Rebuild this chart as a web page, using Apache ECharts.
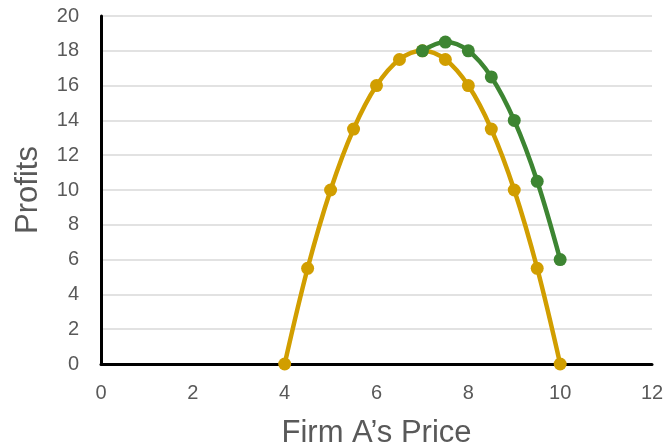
<!DOCTYPE html>
<html>
<head>
<meta charset="utf-8">
<script src="https://cdn.jsdelivr.net/npm/echarts@6/dist/echarts.min.js"></script>
<style>
  html, body { margin: 0; padding: 0; background: #fff; }
  #chart { width: 666px; height: 447px; }
</style>
</head>
<body>
<div id="chart"></div>
<script>
// Profit curves against Firm A's price
const pricesA = [4, 4.5, 5, 5.5, 6, 6.5, 7, 7.5, 8, 8.5, 9, 9.5, 10];
const profitsA = [0, 5.5, 10, 13.5, 16, 17.5, 18, 17.5, 16, 13.5, 10, 5.5, 0];
const pricesB = [7, 7.5, 8, 8.5, 9, 9.5, 10];
const profitsB = [18, 18.5, 18, 16.5, 14, 10.5, 6];

const xAxisTitle = 'Firm A\u2019s Price';
const yAxisTitle = 'Profits';

const pairs = (xs, ys) => xs.map((x, i) => [x, ys[i]]);

const chart = echarts.init(document.getElementById('chart'), null, { renderer: 'canvas' });
const font = '"Liberation Sans", Arial, sans-serif';

chart.setOption({
  animation: false,
  grid: {
    left: 101, right: 14, top: 16, bottom: 83,
    containLabel: false, outerBoundsMode: 'none'
  },
  xAxis: {
    type: 'value', min: 0, max: 12, interval: 2,
    name: xAxisTitle, nameLocation: 'middle', nameGap: 54,
    nameTextStyle: { fontFamily: font, fontSize: 31, color: '#595959' },
    axisLine: { show: true, onZero: false, lineStyle: { color: '#000', width: 3 } },
    axisTick: { show: false },
    splitLine: { show: false },
    axisLabel: { fontFamily: font, fontSize: 20, color: '#595959', margin: 19 }
  },
  yAxis: {
    type: 'value', min: 0, max: 20, interval: 2,
    name: yAxisTitle, nameLocation: 'middle', nameGap: 57,
    nameTextStyle: { fontFamily: font, fontSize: 31, color: '#595959' },
    axisLine: { show: true, lineStyle: { color: '#000', width: 3 } },
    axisTick: { show: false },
    splitLine: { show: true, lineStyle: { color: '#d9d9d9', width: 1.5 } },
    axisLabel: { fontFamily: font, fontSize: 20, color: '#595959', margin: 22 }
  },
  series: [
    {
      type: 'line', data: pairs(pricesA, profitsA), smooth: 0.35,
      symbol: 'circle', symbolSize: 13,
      lineStyle: { color: '#D19E00', width: 4.5 },
      itemStyle: { color: '#D19E00' },
      z: 2
    },
    {
      type: 'line', data: pairs(pricesB, profitsB), smooth: 0.35,
      symbol: 'circle', symbolSize: 13,
      lineStyle: { color: '#3D8532', width: 4.5 },
      itemStyle: { color: '#3D8532' },
      z: 3
    }
  ]
});
</script>
</body>
</html>
